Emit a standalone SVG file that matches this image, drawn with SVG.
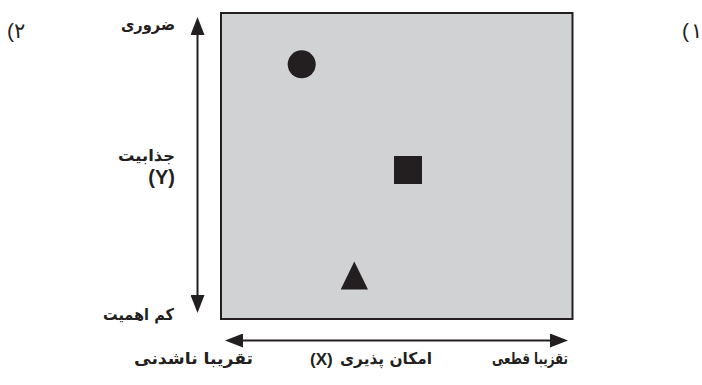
<svg xmlns="http://www.w3.org/2000/svg" width="702" height="385" viewBox="0 0 702 385">
<defs>
<style>
.fa{font-family:"DejaVu Sans","Noto Sans",sans-serif;font-weight:bold;font-size:16px;fill:#231f20}
.la{font-family:"Liberation Sans",Arial,sans-serif;font-weight:bold;fill:#231f20}
.num{font-family:"DejaVu Sans","Noto Sans",sans-serif;font-size:21px;fill:#231f20}
.par{font-family:"Liberation Sans",Arial,sans-serif;font-size:21px;fill:#231f20}
.axis{stroke:#231f20;stroke-width:2;fill:none}
.mark{fill:#231f20}
</style>
<marker id="ah" viewBox="0 0 18 14" refX="9" refY="7" markerWidth="18" markerHeight="14" orient="auto-start-reverse" markerUnits="userSpaceOnUse">
<path d="M0,0 L18,7 L0,14 Z" fill="#231f20"/>
</marker>
</defs>
<rect width="702" height="385" fill="#ffffff"/>
<g id="plot">
<rect x="221" y="13" width="351.5" height="306" fill="#d1d2d4" stroke="#231f20" stroke-width="2"/>
</g>
<g id="circle"><circle cx="301.7" cy="64.3" r="14" class="mark"/></g>
<g id="square"><rect x="394" y="156" width="28" height="28" class="mark"/></g>
<g id="triangle"><polygon points="354.3,261.5 340.7,289.5 368,289.5" class="mark"/></g>
<g id="connectors">
<line x1="197.5" y1="26" x2="197.5" y2="304" class="axis" marker-start="url(#ah)" marker-end="url(#ah)"/>
<line x1="234" y1="340.5" x2="559" y2="340.5" class="axis" marker-start="url(#ah)" marker-end="url(#ah)"/>
</g>
<g id="labels">
<text class="fa" x="121" y="30" textLength="54" lengthAdjust="spacingAndGlyphs">ضروری</text>
<text class="fa" x="118" y="161" textLength="57" lengthAdjust="spacingAndGlyphs">جذابیت</text>
<text class="la" x="175" y="184" text-anchor="end" font-size="20">(Y)</text>
<text class="fa" x="103" y="320" textLength="71" lengthAdjust="spacingAndGlyphs">کم اهمیت</text>
<text class="fa" x="134" y="364" textLength="119" lengthAdjust="spacingAndGlyphs">تقریبا ناشدنی</text>
<text class="la" x="310" y="365" font-size="17">(X)</text>
<text class="fa" x="340" y="364" textLength="92" lengthAdjust="spacingAndGlyphs">امکان پذیری</text>
<text class="fa" x="492" y="364" textLength="76" lengthAdjust="spacingAndGlyphs">تقزیبا قطعی</text>
</g>
<g id="option-2">
<text class="par" x="7" y="38">(</text>
<text class="num" x="14" y="38">۲</text>
</g>
<g id="option-1">
<text class="par" x="682" y="38">(</text>
<text class="num" x="691" y="38">۱</text>
</g>
</svg>
